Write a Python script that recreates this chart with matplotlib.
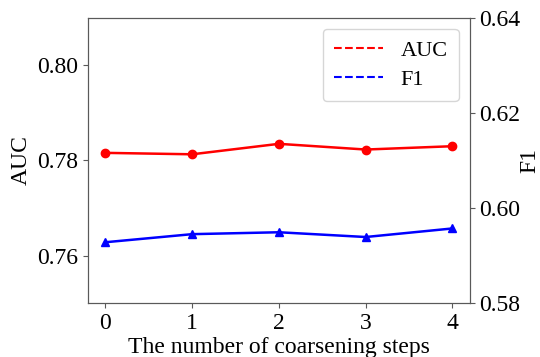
import matplotlib.pyplot as plt
from matplotlib.lines import Line2D

steps = [0, 1, 2, 3, 4]
auc = [0.7816, 0.7813, 0.7835, 0.7823, 0.7830]
f1 = [0.5928, 0.5945, 0.5949, 0.5939, 0.5957]

plt.rcParams['font.family'] = ['Liberation Serif', 'DejaVu Serif']
plt.rcParams['mathtext.fontset'] = 'stix'

fig = plt.figure(figsize=(5.4, 3.57), dpi=100)
ax = fig.add_axes([0.163, 0.151, 0.707, 0.799])
ax2 = ax.twinx()

ax.plot(steps, auc, color='red', marker='o', markersize=6, linewidth=1.8)
ax2.plot(steps, f1, color='blue', marker='^', markersize=6, linewidth=1.8)

ax.set_ylim(0.75, 0.81)
ax2.set_ylim(0.58, 0.64)
ax.set_yticks([0.76, 0.78, 0.80])
ax2.set_yticks([0.58, 0.60, 0.62, 0.64])
ax.set_xticks(steps)

ax.set_xlabel('The number of coarsening steps', fontsize=17, labelpad=2)
ax.set_ylabel('AUC', fontsize=17)
ax2.set_ylabel('F1', fontsize=17, labelpad=-1)

for a in (ax, ax2):
    a.tick_params(labelsize=17, color='0.35')
    for s in a.spines.values():
        s.set_color('0.35')

# legend drawn with dashed proxy lines
handles = [Line2D([0], [0], color='red', linestyle='--', linewidth=1.5),
           Line2D([0], [0], color='blue', linestyle='--', linewidth=1.5)]
ax.legend(handles, ['AUC', 'F1'], loc='upper right', fontsize=16,
          handlelength=2.2, borderpad=0.5, labelspacing=0.4)

fig.savefig('out.png', dpi=100)
